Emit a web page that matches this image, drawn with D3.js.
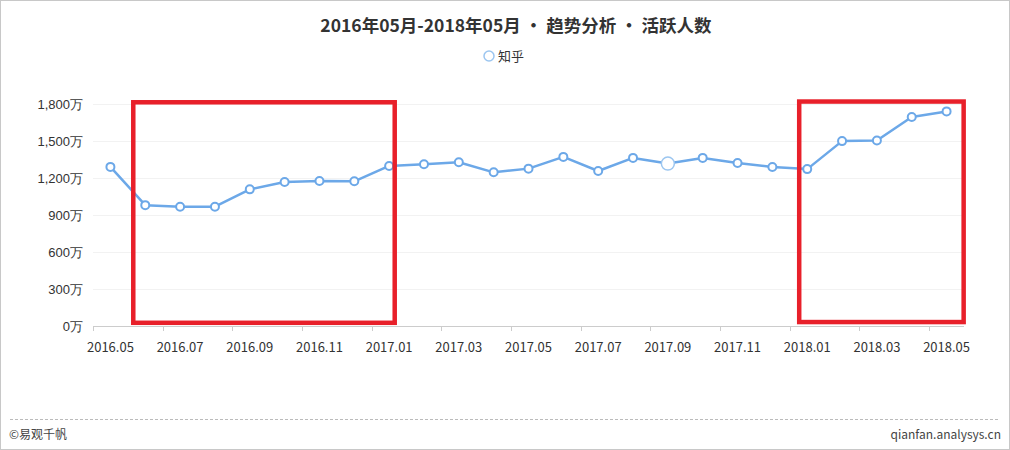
<!DOCTYPE html>
<html><head><meta charset="utf-8">
<script src="https://cdn.jsdelivr.net/npm/d3@7"></script>
<style>
html,body{margin:0;padding:0;background:#fff;}
svg{display:block;font-family:"Noto Sans CJK SC","Noto Sans",sans-serif;}
</style></head>
<body>
<svg id="c" width="1010" height="450"></svg>
<script>
const categories = ["2016.05","2016.06","2016.07","2016.08","2016.09","2016.10","2016.11","2016.12",
  "2017.01","2017.02","2017.03","2017.04","2017.05","2017.06","2017.07","2017.08","2017.09","2017.10","2017.11","2017.12",
  "2018.01","2018.02","2018.03","2018.04","2018.05"];
const activeUsers = [1290,980,967,967,1108,1167,1175,1173,1298,1311,1328,1246,1276,1371,1257,1363,1317,1363,1322,1289,1272,1499,1504,1694,1740];
const yTicks = [0,300,600,900,1200,1500,1800];
const seriesName = "知乎";
const title = "2016年05月-2018年05月 • 趋势分析 • 活跃人数";
const highlightIndex = 16;
// annotation boxes: [start band position, end band position, low value, high value]
const boxStart = [1.156, 20.27];
const boxEnd = [8.66, 24.99];
const boxLow = [26, 32];
const boxHigh = [1814, 1820];

(function(){
const svg = d3.select("#c");
const W = 1010, H = 450;
const pLeft = 93, pRight = 964, pTop = 104, pBottom = 326;
const lineColor = "#6ca8e8";

svg.append("rect").attr("x",0.5).attr("y",0.5).attr("width",W-1).attr("height",H-1)
  .attr("fill","#fff").attr("stroke","#c8c8c8");

const x = d3.scaleBand().domain(categories).range([pLeft,pRight]).paddingInner(0).paddingOuter(0);
const bandPos = d3.scaleLinear().domain([0,categories.length]).range([pLeft,pRight]);
const y = d3.scaleLinear().domain([0,1800]).range([pBottom,pTop]);

// grid
svg.append("g").selectAll("line").data(yTicks.filter(d=>d>0)).join("line")
  .attr("x1",pLeft).attr("x2",pRight).attr("y1",d=>Math.round(y(d))+0.5).attr("y2",d=>Math.round(y(d))+0.5)
  .attr("stroke","#f2f2f2").attr("stroke-width",1);

// y axis
const yAxis = d3.axisLeft(y).tickValues(yTicks).tickSize(0).tickPadding(10)
  .tickFormat(d=>d3.format(",")(d)+"万");
const gy = svg.append("g").attr("transform",`translate(${pLeft},0)`).call(yAxis);
gy.select(".domain").remove();
gy.selectAll("text").attr("font-size",13).attr("fill","#333").attr("x",-10).attr("font-family",null);

// x axis
const gx = svg.append("g").attr("transform",`translate(0,${pBottom})`);
gx.append("line").attr("x1",pLeft).attr("x2",pRight).attr("y1",0.5).attr("y2",0.5).attr("stroke","#ccc");
const tickIdx = d3.range(0,categories.length,2);
gx.selectAll("line.t").data(tickIdx).join("line").attr("class","t")
  .attr("x1",d=>Math.round(bandPos(d))+0.5).attr("x2",d=>Math.round(bandPos(d))+0.5)
  .attr("y1",0).attr("y2",5).attr("stroke","#ccc");
gx.selectAll("text").data(tickIdx).join("text")
  .attr("x",d=>x(categories[d])+x.bandwidth()/2).attr("y",26)
  .attr("text-anchor","middle").attr("font-size",13).attr("fill","#333")
  .text(d=>categories[d]);

// line
const line = d3.line().x((d,i)=>x(categories[i])+x.bandwidth()/2).y(d=>y(d));
svg.append("path").datum(activeUsers).attr("d",line)
  .attr("fill","none").attr("stroke",lineColor).attr("stroke-width",2.5).attr("stroke-linejoin","round");
svg.append("g").selectAll("circle").data(activeUsers).join("circle")
  .attr("cx",(d,i)=>x(categories[i])+x.bandwidth()/2).attr("cy",d=>y(d))
  .attr("r",(d,i)=>i===highlightIndex?6.5:4)
  .attr("fill","#fff")
  .attr("stroke",(d,i)=>i===highlightIndex?"#9cc6f0":lineColor)
  .attr("stroke-width",(d,i)=>i===highlightIndex?1.5:2);

// annotation boxes
svg.append("g").selectAll("rect").data(boxStart).join("rect")
  .attr("x",(d)=>bandPos(d))
  .attr("y",(d,i)=>y(boxHigh[i]))
  .attr("width",(d,i)=>bandPos(boxEnd[i])-bandPos(d))
  .attr("height",(d,i)=>y(boxLow[i])-y(boxHigh[i]))
  .attr("fill","none").attr("stroke","#e8202a").attr("stroke-width",4.5);

// title
svg.append("text").attr("x",516).attr("y",32).attr("text-anchor","middle")
  .attr("font-size",17.5).attr("font-weight","bold").attr("fill","#333").text(title);

// legend
svg.append("circle").attr("cx",489).attr("cy",56).attr("r",5)
  .attr("fill","#fff").attr("stroke","#9cc6f0").attr("stroke-width",1.5);
svg.append("text").attr("x",498).attr("y",60.5).attr("font-size",13).attr("fill","#333").text(seriesName);

// footer
svg.append("line").attr("x1",10).attr("x2",1000).attr("y1",419.5).attr("y2",419.5)
  .attr("stroke","#bbb").attr("stroke-dasharray","3,2");
svg.append("text").attr("x",9).attr("y",439).attr("font-size",12).attr("fill","#444").text("©易观千帆");
svg.append("text").attr("x",1001).attr("y",439).attr("text-anchor","end").attr("font-size",12).attr("fill","#444").text("qianfan.analysys.cn");
})();
</script>
</body></html>
